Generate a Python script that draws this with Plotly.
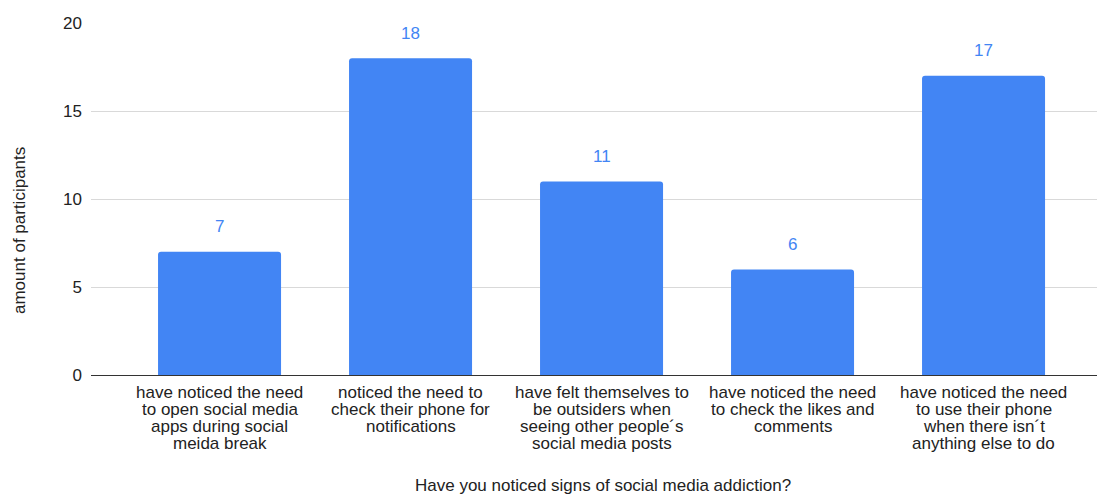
import plotly.graph_objects as go

# Survey responses: signs of social media addiction noticed by participants
categories = [
    "have noticed the need\nto open social media\napps during social\nmeida break",
    "noticed the need to\ncheck their phone for\nnotifications",
    "have felt themselves to\nbe outsiders when\nseeing other people´s\nsocial media posts",
    "have noticed the need\nto check the likes and\ncomments",
    "have noticed the need\nto use their phone\nwhen there isn´t\nanything else to do",
]
participants = [7, 18, 11, 6, 17]
y_ticks = [0, 5, 10, 15, 20]

FONT = "Liberation Sans, Arial, sans-serif"
BLUE = "#4285F4"
TEXT = "#222222"

x_pos = list(range(len(categories)))

fig = go.Figure(
    go.Bar(
        x=x_pos,
        y=participants,
        marker=dict(color=BLUE, line=dict(width=0), cornerradius=3),
        width=0.644,
        hoverinfo="skip",
    )
)

annotations = []
# value labels above each bar
for xi, v in zip(x_pos, participants):
    annotations.append(dict(
        x=xi, y=v, xref="x", yref="y", text=str(v), showarrow=False,
        yanchor="middle", yshift=25,
        font=dict(family=FONT, size=17, color=BLUE),
    ))

# category labels, one annotation per line for tight line spacing
for xi, label in zip(x_pos, categories):
    for li, line in enumerate(label.split("\n")):
        annotations.append(dict(
            x=xi, y=0, xref="x", yref="y", text=line, showarrow=False,
            yanchor="middle", xanchor="center", yshift=-(17 + 17.3 * li),
            font=dict(family=FONT, size=17, color=TEXT),
        ))

# axis titles
annotations.append(dict(
    x=(603 - 91) / 1006, y=(375 - 485) / 352, xref="paper", yref="paper",
    text="Have you noticed signs of social media addiction?", showarrow=False,
    xanchor="center", yanchor="middle",
    font=dict(family=FONT, size=17, color=TEXT),
))
annotations.append(dict(
    x=(20 - 91) / 1006, y=(375 - 231) / 352, xref="paper", yref="paper",
    text="amount of participants", showarrow=False, textangle=-90,
    xanchor="center", yanchor="middle",
    font=dict(family=FONT, size=17, color=TEXT),
))

fig.update_layout(
    width=1097,
    height=495,
    margin=dict(l=91, r=0, t=23, b=120),
    paper_bgcolor="white",
    plot_bgcolor="white",
    showlegend=False,
    font=dict(family=FONT, size=17, color=TEXT),
    annotations=annotations,
    xaxis=dict(
        range=[-0.673, 4.594],
        showticklabels=False,
        showgrid=False,
        zeroline=False,
        showline=False,
        fixedrange=True,
    ),
    yaxis=dict(
        range=[0, 20],
        tickvals=y_ticks,
        ticktext=[str(t) for t in y_ticks],
        showgrid=True,
        gridcolor="#d9d9d9",
        gridwidth=1,
        zeroline=True,
        zerolinecolor="#333333",
        zerolinewidth=1,
        showline=False,
        ticks="",
        ticklabelstandoff=8,
        tickfont=dict(family=FONT, size=17, color=TEXT),
        fixedrange=True,
    ),
)

fig.write_html("out.html")
